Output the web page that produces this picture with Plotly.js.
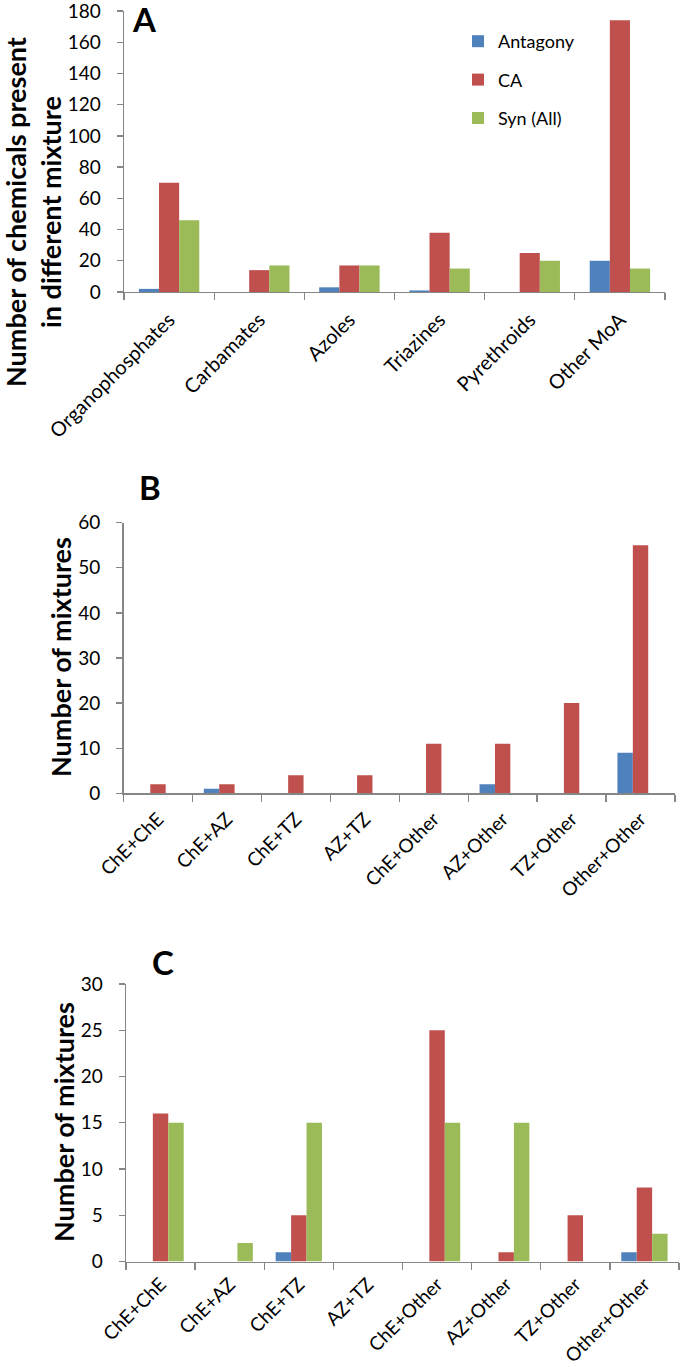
<!DOCTYPE html>
<html>
<head>
<meta charset="utf-8">
<script src="https://cdn.plot.ly/plotly-3.0.1.min.js"></script>
<style>
  html, body { margin: 0; padding: 0; background: #ffffff; }
  #chart { width: 685px; height: 1367px; }
</style>
</head>
<body>
<div id="chart"></div>
<script>
// ---- Data ----
const seriesNames = ['Antagony', 'CA', 'Syn (All)'];
const seriesColors = ['#4F81BD', '#C0504D', '#9BBB59'];

// Panel A: chemicals by mode of action
const categoriesA = ['Organophosphates', 'Carbamates', 'Azoles', 'Triazines', 'Pyrethroids', 'Other MoA'];
const antagonyA = [2, 0, 3, 1, 0, 20];
const caA = [70, 14, 17, 38, 25, 174];
const synA = [46, 17, 17, 15, 20, 15];

// Panels B and C: mixture types
const categoriesBC = ['ChE+ChE', 'ChE+AZ', 'ChE+TZ', 'AZ+TZ', 'ChE+Other', 'AZ+Other', 'TZ+Other', 'Other+Other'];
const antagonyB = [0, 1, 0, 0, 0, 2, 0, 9];
const caB = [2, 2, 4, 4, 11, 11, 20, 55];
const synB = [0, 0, 0, 0, 0, 0, 0, 0];

const antagonyC = [0, 0, 1, 0, 0, 0, 0, 1];
const caC = [16, 0, 5, 0, 25, 1, 5, 8];
const synC = [15, 2, 15, 0, 15, 15, 0, 3];

const panelLetters = ['A', 'B', 'C'];
const yTitleA = 'Number of chemicals present<br>in different mixture';
const yTitleBC = 'Number of mixtures';

// ---- Build traces ----
const W = 685, H = 1367;
const FONT = 'Lato, "Open Sans", sans-serif';

function makeTraces(cats, vals, xa, ya, showLegend) {
  return vals.map((v, i) => ({
    type: 'bar',
    x: cats,
    y: v,
    name: seriesNames[i],
    marker: { color: seriesColors[i], line: { width: 0 } },
    xaxis: xa,
    yaxis: ya,
    showlegend: showLegend,
    legendgroup: showLegend ? 'g' + i : undefined,
    hoverinfo: 'x+y+name'
  }));
}

const traces = [].concat(
  makeTraces(categoriesA, [antagonyA, caA, synA], 'x', 'y', true),
  makeTraces(categoriesBC, [antagonyB, caB, synB], 'x2', 'y2', false),
  makeTraces(categoriesBC, [antagonyC, caC, synC], 'x3', 'y3', false)
);

// pixel helpers
const px = v => v / W;
const py = v => 1 - v / H;

const axisLine = '#868686';
function xAxis(domain, anchor, fontSize, standoff) {
  return {
    domain: domain, anchor: anchor,
    showline: true, linecolor: axisLine, linewidth: 1.3,
    ticks: 'outside', tickson: 'boundaries', ticklen: 7, tickcolor: axisLine, tickwidth: 1.3,
    ticklabelstandoff: standoff,
    tickangle: -45, showgrid: false, zeroline: false,
    tickfont: { family: FONT, size: fontSize, color: '#000000' },
    fixedrange: true
  };
}
function yAxis(domain, anchor, range, dtick) {
  return {
    domain: domain, anchor: anchor, range: range, dtick: dtick, tick0: 0,
    showline: true, linecolor: axisLine, linewidth: 1.3,
    ticks: 'outside', ticklen: 6, tickcolor: axisLine, tickwidth: 1.3,
    ticklabelstandoff: 12, ticklabeloverflow: 'allow',
    showgrid: false, zeroline: false,
    tickfont: { family: FONT, size: 19, color: '#000000' },
    fixedrange: true
  };
}

const layout = {
  width: W, height: H,
  margin: { l: 0, r: 0, t: 0, b: 0 },
  paper_bgcolor: '#ffffff', plot_bgcolor: '#ffffff',
  barmode: 'group', bargap: 0.33, bargroupgap: 0,
  font: { family: FONT, color: '#000000' },
  showlegend: true,
  legend: {
    x: px(458), y: py(23), xanchor: 'left', yanchor: 'top',
    font: { family: FONT, size: 18, color: '#000000' },
    tracegroupgap: 12, bgcolor: 'rgba(0,0,0,0)'
  },
  xaxis: xAxis([px(124), px(665)], 'y', 20, 7),
  yaxis: yAxis([py(292), py(11)], 'x', [0, 180], 20),
  xaxis2: xAxis([px(123.5), px(675)], 'y2', 19, 6),
  yaxis2: yAxis([py(793.3), py(522.7)], 'x2', [0, 60], 10),
  xaxis3: xAxis([px(126), px(679)], 'y3', 19, 3),
  yaxis3: yAxis([py(1261.5), py(984)], 'x3', [0, 30], 5),
  annotations: [
    { text: panelLetters[0], xref: 'paper', yref: 'paper', x: px(144), y: py(19), xanchor: 'center', yanchor: 'middle', showarrow: false, font: { family: FONT, size: 33, color: '#000', weight: 'bold' } },
    { text: panelLetters[1], xref: 'paper', yref: 'paper', x: px(150), y: py(487), xanchor: 'center', yanchor: 'middle', showarrow: false, font: { family: FONT, size: 33, color: '#000', weight: 'bold' } },
    { text: panelLetters[2], xref: 'paper', yref: 'paper', x: px(163), y: py(962), xanchor: 'center', yanchor: 'middle', showarrow: false, font: { family: FONT, size: 33, color: '#000', weight: 'bold' } },
    { text: yTitleA, xref: 'paper', yref: 'paper', x: px(33), y: py(212), xanchor: 'center', yanchor: 'middle', textangle: -90, showarrow: false, font: { family: FONT, size: 27, color: '#000', weight: 'bold' } },
    { text: yTitleBC, xref: 'paper', yref: 'paper', x: px(60), y: py(657), xanchor: 'center', yanchor: 'middle', textangle: -90, showarrow: false, font: { family: FONT, size: 27, color: '#000', weight: 'bold' } },
    { text: yTitleBC, xref: 'paper', yref: 'paper', x: px(63), y: py(1122), xanchor: 'center', yanchor: 'middle', textangle: -90, showarrow: false, font: { family: FONT, size: 27, color: '#000', weight: 'bold' } }
  ]
};

Plotly.newPlot('chart', traces, layout, { displayModeBar: false, staticPlot: true });
</script>
</body>
</html>
